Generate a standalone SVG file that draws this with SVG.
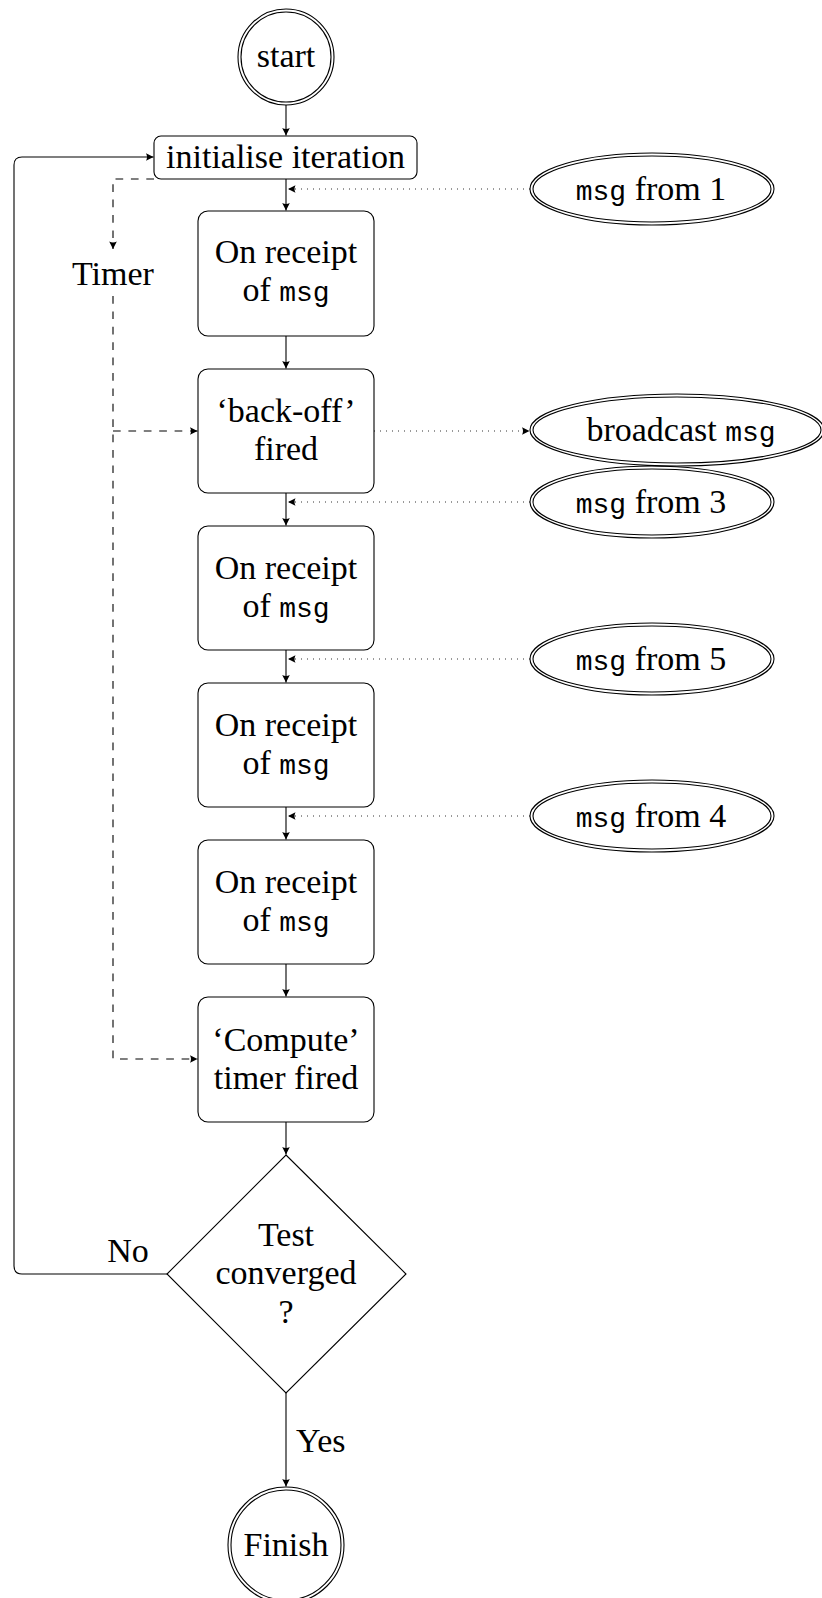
<svg xmlns="http://www.w3.org/2000/svg" width="822" height="1598" viewBox="0 0 822 1598">
<style>
  .t { font-family: "Liberation Serif", "Times New Roman", serif; font-size: 34px; fill: #000; }
  .m { font-family: "Liberation Mono", "Courier New", monospace; font-size: 28px; }
  .box { fill: #fff; stroke: #000; stroke-width: 1.1; }
  .dbl { fill: none; stroke: #000; stroke-width: 1.1; }
  .edge { fill: none; stroke: #000; stroke-width: 1.1; }
  .dash { fill: none; stroke: #000; stroke-width: 1.1; stroke-dasharray: 7.7 7.7; }
  .dot { fill: none; stroke: #333; stroke-width: 1; stroke-dasharray: 1 5; }
</style>
<defs>
  <marker id="ah" markerUnits="userSpaceOnUse" markerWidth="12" markerHeight="12" viewBox="-9 -6 10 12" refX="0" refY="0" orient="auto">
    <path d="M0,0 L-7.5,-3.8 Q-5.5,0 -7.5,3.8 Z" fill="#000" stroke="none"/>
  </marker>
</defs>

<g id="connectors">
  <path class="edge" d="M286,105 V135.5" marker-end="url(#ah)"/>
  <path class="edge" d="M286,179 V210.5" marker-end="url(#ah)"/>
  <path class="edge" d="M286,336 V368.5" marker-end="url(#ah)"/>
  <path class="edge" d="M286,493 V525.5" marker-end="url(#ah)"/>
  <path class="edge" d="M286,650 V682.5" marker-end="url(#ah)"/>
  <path class="edge" d="M286,807 V839.5" marker-end="url(#ah)"/>
  <path class="edge" d="M286,964 V996.5" marker-end="url(#ah)"/>
  <path class="edge" d="M286,1122 V1154.5" marker-end="url(#ah)"/>
  <path class="edge" d="M286,1393 V1486.5" marker-end="url(#ah)"/>
  <path class="edge" d="M167,1274 H22 Q14,1274 14,1266 V165 Q14,157 22,157 H153.5" marker-end="url(#ah)"/>
  <path class="dash" d="M154,179 H113 V249" marker-end="url(#ah)"/>
  <path class="dash" d="M113,296 V1059 H197.5" marker-end="url(#ah)"/>
  <path class="dash" d="M113,431 H197.5" marker-end="url(#ah)"/>
  <path class="dot" d="M530,189 H288" marker-end="url(#ah)"/>
  <path class="dot" d="M374,431 H529.5" marker-end="url(#ah)"/>
  <path class="dot" d="M530,502 H288" marker-end="url(#ah)"/>
  <path class="dot" d="M530,659 H288" marker-end="url(#ah)"/>
  <path class="dot" d="M530,816 H288" marker-end="url(#ah)"/>
  <text class="t" x="113" y="285" text-anchor="middle">Timer</text>
  <text class="t" x="128" y="1262" text-anchor="middle">No</text>
  <text class="t" x="296" y="1452">Yes</text>
</g>

<g id="start">
  <circle class="dbl" cx="286" cy="57" r="48"/>
  <circle class="dbl" cx="286" cy="57" r="45"/>
  <text class="t" x="286" y="67" text-anchor="middle">start</text>
</g>

<g id="init">
  <rect class="box" x="154" y="136" width="263" height="43" rx="7"/>
  <text class="t" x="285.5" y="168" text-anchor="middle">initialise iteration</text>
</g>

<g id="recv1">
  <rect class="box" x="198" y="211" width="176" height="125" rx="10"/>
  <text class="t" x="286" y="263" text-anchor="middle">On receipt</text>
  <text class="t" x="286" y="301" text-anchor="middle">of <tspan class="m">msg</tspan></text>
</g>

<g id="backoff">
  <rect class="box" x="198" y="369" width="176" height="124" rx="10"/>
  <text class="t" x="286" y="422" text-anchor="middle">‘back-off’</text>
  <text class="t" x="286" y="460" text-anchor="middle">fired</text>
</g>

<g id="recv2">
  <rect class="box" x="198" y="526" width="176" height="124" rx="10"/>
  <text class="t" x="286" y="579" text-anchor="middle">On receipt</text>
  <text class="t" x="286" y="617" text-anchor="middle">of <tspan class="m">msg</tspan></text>
</g>

<g id="recv3">
  <rect class="box" x="198" y="683" width="176" height="124" rx="10"/>
  <text class="t" x="286" y="736" text-anchor="middle">On receipt</text>
  <text class="t" x="286" y="774" text-anchor="middle">of <tspan class="m">msg</tspan></text>
</g>

<g id="recv4">
  <rect class="box" x="198" y="840" width="176" height="124" rx="10"/>
  <text class="t" x="286" y="893" text-anchor="middle">On receipt</text>
  <text class="t" x="286" y="931" text-anchor="middle">of <tspan class="m">msg</tspan></text>
</g>

<g id="compute">
  <rect class="box" x="198" y="997" width="176" height="125" rx="10"/>
  <text class="t" x="286" y="1051" text-anchor="middle">‘Compute’</text>
  <text class="t" x="286" y="1089" text-anchor="middle">timer fired</text>
</g>

<g id="test">
  <path class="box" d="M286,1155 L406,1274 L286,1393 L167,1274 Z"/>
  <text class="t" x="286" y="1246" text-anchor="middle">Test</text>
  <text class="t" x="286" y="1284" text-anchor="middle">converged</text>
  <text class="t" x="286" y="1323" text-anchor="middle">?</text>
</g>

<g id="finish">
  <circle class="dbl" cx="286" cy="1545" r="58"/>
  <circle class="dbl" cx="286" cy="1545" r="55"/>
  <text class="t" x="286" y="1556" text-anchor="middle">Finish</text>
</g>

<g id="from1">
  <ellipse class="dbl" cx="652" cy="189" rx="122" ry="36"/>
  <ellipse class="dbl" cx="652" cy="189" rx="119" ry="33"/>
  <text class="t" x="651" y="200" text-anchor="middle"><tspan class="m">msg</tspan> from 1</text>
</g>

<g id="broadcast">
  <ellipse class="dbl" cx="677" cy="430" rx="147" ry="36"/>
  <ellipse class="dbl" cx="677" cy="430" rx="144" ry="33"/>
  <text class="t" x="681" y="441" text-anchor="middle">broadcast <tspan class="m">msg</tspan></text>
</g>

<g id="from3">
  <ellipse class="dbl" cx="652" cy="502" rx="122" ry="36"/>
  <ellipse class="dbl" cx="652" cy="502" rx="119" ry="33"/>
  <text class="t" x="651" y="513" text-anchor="middle"><tspan class="m">msg</tspan> from 3</text>
</g>

<g id="from5">
  <ellipse class="dbl" cx="652" cy="659" rx="122" ry="36"/>
  <ellipse class="dbl" cx="652" cy="659" rx="119" ry="33"/>
  <text class="t" x="651" y="670" text-anchor="middle"><tspan class="m">msg</tspan> from 5</text>
</g>

<g id="from4">
  <ellipse class="dbl" cx="652" cy="816" rx="122" ry="36"/>
  <ellipse class="dbl" cx="652" cy="816" rx="119" ry="33"/>
  <text class="t" x="651" y="827" text-anchor="middle"><tspan class="m">msg</tspan> from 4</text>
</g>
</svg>
